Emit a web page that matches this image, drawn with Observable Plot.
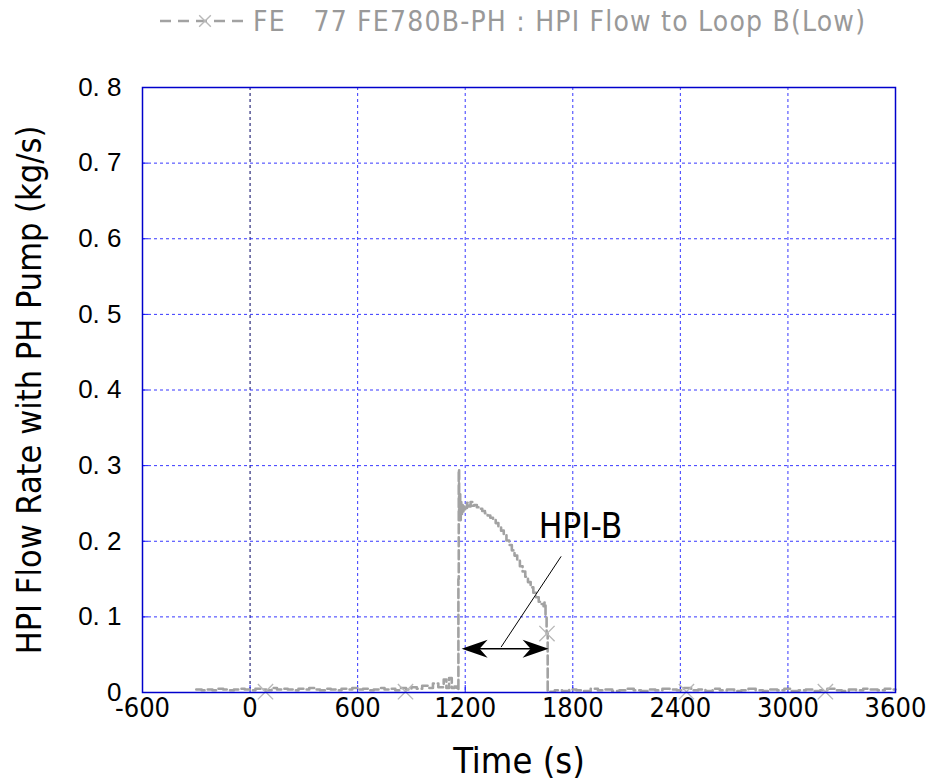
<!DOCTYPE html>
<html><head><meta charset="utf-8">
<script src="https://cdn.jsdelivr.net/npm/d3@7"></script>
<script src="https://cdn.jsdelivr.net/npm/@observablehq/plot@0.6"></script>
<style>
body{margin:0;background:#fff;}
svg{display:block;}
</style></head><body>
<div id="legend"></div>
<div id="chart"></div>
<script>
// ---- data ----
const preTimes = [-300,-270,-240,-210,-180,-150,-120,-90,-60,-30,0,30,60,90,120,150,180,210,240,270,300,330,360,390,420,450,480,510,540,570,600,630,660,690,720,750,780,810,840,870,900,930,960,990,1020,1050,1080,1095,1110,1125,1140,1152];
const preFlows = [0.004,0.003,0.004,0.003,0.005,0.004,0.003,0.004,0.005,0.004,0.003,0.005,0.004,0.003,0.006,0.004,0.005,0.004,0.003,0.005,0.004,0.006,0.004,0.003,0.005,0.004,0.003,0.005,0.004,0.006,0.004,0.005,0.003,0.004,0.006,0.004,0.005,0.003,0.006,0.004,0.007,0.005,0.009,0.006,0.012,0.007,0.017,0.006,0.019,0.006,0.008,0.004];
const pulseTimes = [1162,1164,1166,1169,1172,1175,1178,1182,1186,1190,1195,1200,1210,1220,1230,1240,1250,1265,1280,1295,1310,1325,1340,1355,1370,1385,1400,1415,1430,1445,1460,1475,1490,1505,1520,1535,1550,1565,1580,1595,1610,1625,1637,1642,1648,1654,1660];
const pulseFlows = [0.150,0.295,0.235,0.262,0.228,0.252,0.236,0.248,0.238,0.246,0.240,0.244,0.251,0.246,0.252,0.247,0.248,0.245,0.243,0.240,0.237,0.234,0.231,0.228,0.224,0.219,0.214,0.208,0.201,0.195,0.188,0.181,0.174,0.167,0.160,0.153,0.146,0.139,0.132,0.126,0.120,0.117,0.114,0.119,0.100,0.078,0.001];
const postTimes = [1700,1740,1780,1820,1860,1900,1940,1980,2020,2060,2100,2140,2180,2220,2260,2300,2340,2380,2420,2460,2500,2540,2580,2620,2660,2700,2740,2780,2820,2860,2900,2940,2980,3020,3060,3100,3140,3180,3220,3260,3300,3340,3380,3420,3460,3500,3540,3580,3600];
const postFlows = [0.003,0.002,0.004,0.003,0.002,0.005,0.003,0.004,0.002,0.003,0.005,0.003,0.002,0.004,0.003,0.005,0.004,0.003,0.006,0.003,0.004,0.002,0.005,0.003,0.004,0.002,0.003,0.005,0.003,0.002,0.004,0.003,0.005,0.002,0.003,0.004,0.002,0.003,0.005,0.003,0.002,0.004,0.003,0.005,0.004,0.003,0.005,0.004,0.004];
const markerTimes = [86, 867, 1656, 2434, 3209];
const markerFlows = [0.001, 0.001, 0.078, 0.001, 0.001];

const xTicks = [-600, 0, 600, 1200, 1800, 2400, 3000, 3600];
const xTickLabels = ["-600", "0", "600", "1200", "1800", "2400", "3000", "3600"];
const yTicks = [0, 0.1, 0.2, 0.3, 0.4, 0.5, 0.6, 0.7, 0.8];
const yTickLabels = ["0", "0. 1", "0. 2", "0. 3", "0. 4", "0. 5", "0. 6", "0. 7", "0. 8"];

const xTitle = "Time (s)";
const yTitle = "HPI Flow Rate with PH Pump (kg/s)";
const legendKey = "FE";
const legendText = "77 FE780B-PH : HPI Flow to Loop B(Low)";

const noteText = "HPI-B";
const noteAt = {t: 1843, v: 0.204};
const leaderFrom = {t: 1735, v: 0.180};
const leaderTo = {t: 1400, v: 0.060};
const arrowStart = 1180, arrowEnd = 1665, arrowLevel = 0.058;

// ---- build tables ----
const series = [];
[[preTimes, preFlows], [pulseTimes, pulseFlows], [postTimes, postFlows]].forEach(([ts, vs]) =>
  ts.forEach((t, i) => series.push({t, v: vs[i]})));
const markers = markerTimes.map((t, i) => ({t, v: markerFlows[i]}));
const arrowHeads = [{t: arrowEnd, v: arrowLevel, a: 0}, {t: arrowStart, v: arrowLevel, a: 180}];

const gothic = "'DejaVu Sans Condensed','Liberation Sans Narrow','DejaVu Sans',sans-serif";
const arial = "'Liberation Sans',Arial,sans-serif";
const gray = "#a2a2a2";
const blue = "#1414ff";

const stealth = {draw(ctx) {
  ctx.moveTo(0, 0); ctx.lineTo(-26, -9); ctx.lineTo(-18, 0); ctx.lineTo(-26, 9); ctx.closePath();
}};

const chart = Plot.plot({
  width: 928, height: 730,
  marginTop: 37, marginBottom: 88, marginLeft: 142, marginRight: 33,
  style: {fontFamily: gothic, background: "#fff"},
  x: {domain: [-600, 3600], label: null},
  y: {domain: [0, 0.8], label: null},
  marks: [
    Plot.gridX({ticks: xTicks.filter(d => d !== 0 && d !== -600 && d !== 3600), stroke: blue, strokeOpacity: 0.85, strokeDasharray: "3,3"}),
    Plot.gridX({ticks: [0], stroke: "#000060", strokeOpacity: 1, strokeDasharray: "3,3"}),
    Plot.gridY({ticks: yTicks.filter(d => d > 0 && d < 0.8), stroke: blue, strokeOpacity: 0.85, strokeDasharray: "3,3"}),
    Plot.axisX({ticks: xTicks, tickSize: 7, dy: -7, text: null, stroke: blue}),
    Plot.axisY({ticks: yTicks, tickSize: 6, dx: 6, text: null, stroke: blue}),
    Plot.axisX({ticks: xTicks, tickSize: 0, tickPadding: 5, tickFormat: (d, i) => xTickLabels[i], fontSize: 27, fontFamily: gothic, fill: "#000", ariaLabel: "xticks"}),
    Plot.axisY({ticks: yTicks, tickSize: 0, tickPadding: 21, tickFormat: (d, i) => yTickLabels[i], fontSize: 26, fontFamily: arial, fill: "#000"}),
    Plot.line(series, {x: "t", y: "v", curve: "step-after", stroke: gray, strokeWidth: 2.6, strokeDasharray: "9,4"}),
    Plot.dot(markers, {x: "t", y: "v", symbol: "times", r: 7, stroke: "#b8b8b8", strokeWidth: 1.4}),
    Plot.link([{x1: arrowStart, x2: arrowEnd}], {x1: d => d.x1 + 20, x2: d => d.x2 - 20, y1: () => arrowLevel, y2: () => arrowLevel, stroke: "#000", strokeWidth: 1.5}),
    Plot.dot(arrowHeads, {x: "t", y: "v", symbol: stealth, rotate: "a", fill: "#000", stroke: "none"}),
    Plot.link([{a: leaderFrom, b: leaderTo}], {x1: d => d.a.t, y1: d => d.a.v, x2: d => d.b.t, y2: d => d.b.v, stroke: "#000", strokeWidth: 1}),
    Plot.text([noteText], {x: () => noteAt.t, y: () => noteAt.v, text: d => d, fontSize: 35, fontFamily: gothic, fill: "#000", lineAnchor: "bottom", ariaLabel: "note"}),
    Plot.text([xTitle], {frameAnchor: "bottom", dy: 69, textAnchor: "middle", lineAnchor: "middle", text: d => d, fontSize: 36, fontFamily: gothic, fill: "#000", ariaLabel: "xtitle"}),
    Plot.text([yTitle], {frameAnchor: "left", dx: -112, textAnchor: "middle", lineAnchor: "middle", rotate: -90, text: d => d, fontSize: 34, fontFamily: gothic, fill: "#000", ariaLabel: "ytitle"}),
    Plot.frame({stroke: "#0000cc", strokeWidth: 1.5})
  ]
});
document.getElementById("chart").append(chart);

// stretch the Gothic-like texts to the reference widths
const setLen = (sel, len) => chart.querySelectorAll(sel).forEach(t => { t.setAttribute("textLength", len); t.setAttribute("lengthAdjust", "spacing"); });
setLen('g[aria-label="xtitle"] text', 125);
setLen('g[aria-label="ytitle"] text', 535);
setLen('g[aria-label="note"] text', 82);

// ---- legend (above the SVG) ----
const leg = d3.select("#legend").append("svg").attr("width", 928).attr("height", 50);
leg.append("line").attr("x1", 160).attr("x2", 250).attr("y1", 21).attr("y2", 21)
  .attr("stroke", gray).attr("stroke-width", 2.6).attr("stroke-dasharray", "11,7");
leg.append("path").attr("d", d3.symbol(d3.symbolTimes, 90)()).attr("transform", "translate(205,21)")
  .attr("stroke", "#b8b8b8").attr("stroke-width", 1.4).attr("fill", "none");
leg.append("text").attr("x", 253).attr("y", 31).attr("fill", "#999").attr("font-family", gothic)
  .attr("font-size", 28).style("white-space", "pre")
  .attr("textLength", 612).attr("lengthAdjust", "spacing")
  .text(legendKey + "   " + legendText);
</script>
</body></html>
